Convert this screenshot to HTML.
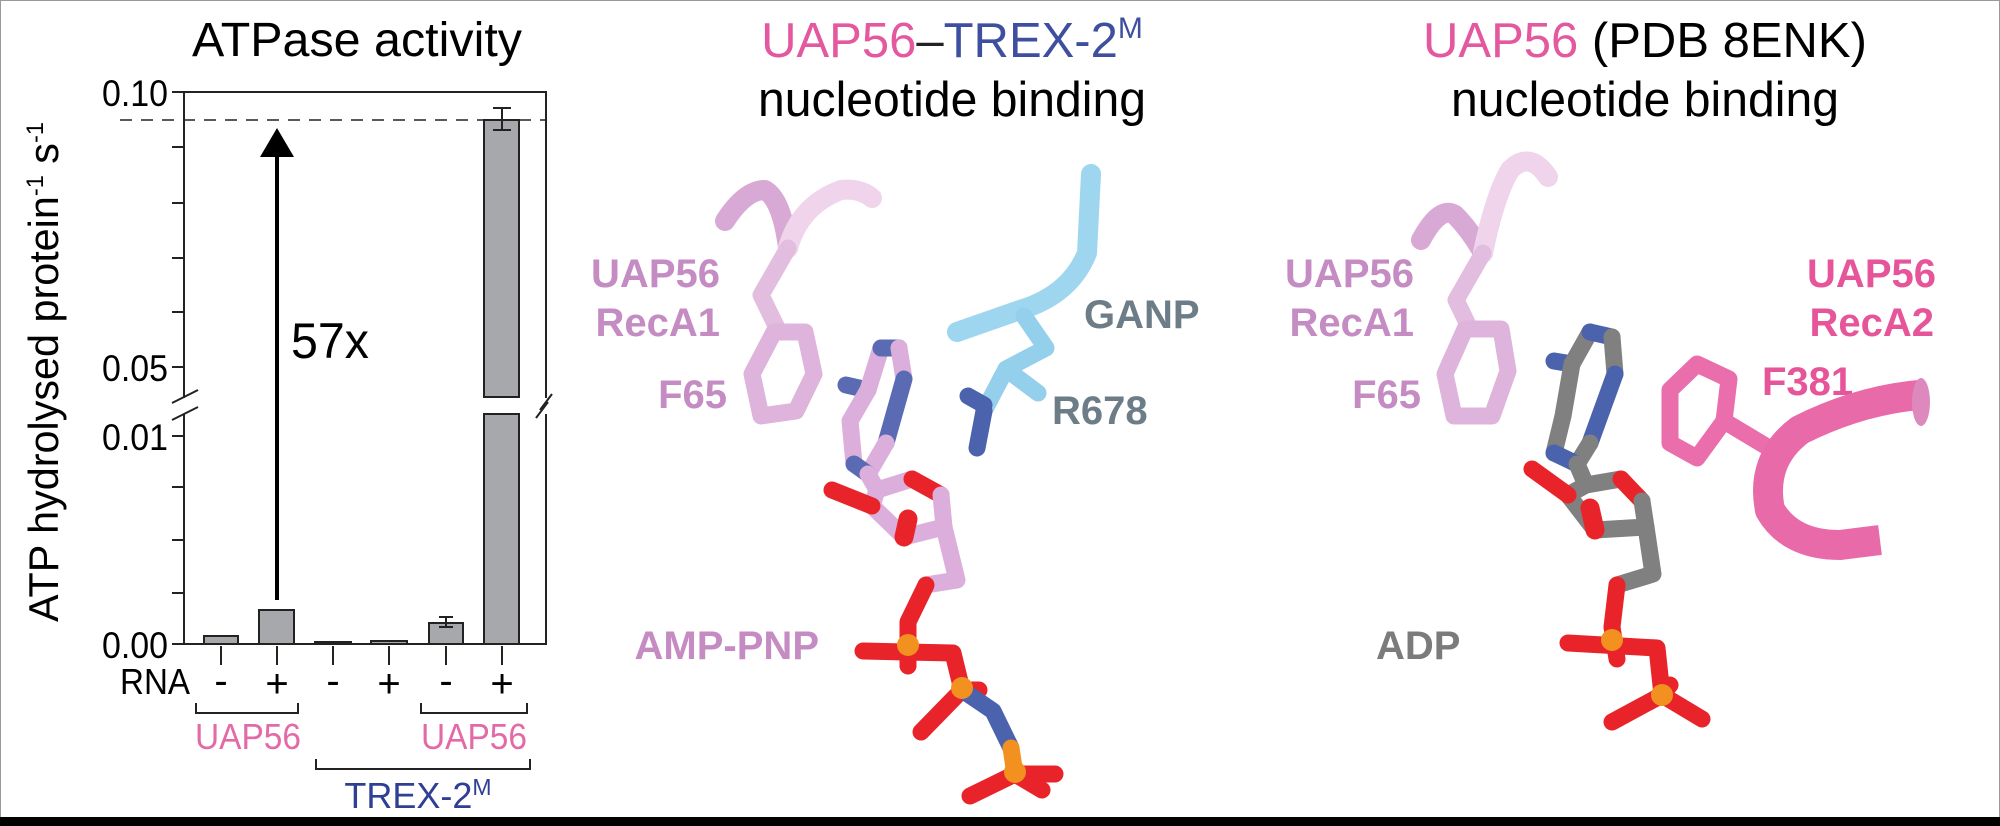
<!DOCTYPE html>
<html><head><meta charset="utf-8"><style>
html,body{margin:0;padding:0;background:#fff}
svg{display:block}
text{font-family:"Liberation Sans",Arial,sans-serif}
</style></head><body>
<svg width="2000" height="826" viewBox="0 0 2000 826" xmlns="http://www.w3.org/2000/svg">
<rect x="0" y="0" width="2000" height="826" fill="#fff"/>
<rect x="0.5" y="0.5" width="1999" height="820" fill="none" stroke="#999" stroke-width="1"/>
<rect x="0" y="817" width="2000" height="9" fill="#000"/>

<!-- ===== Chart ===== -->
<text x="357" y="56" font-size="48" text-anchor="middle" textLength="330" lengthAdjust="spacingAndGlyphs">ATPase activity</text>
<g stroke="#222" stroke-width="2" fill="none">
<rect x="184" y="92" width="362" height="552"/>
<line x1="120" y1="120" x2="546" y2="120" stroke-dasharray="12,9" stroke-width="1.6"/>
<line x1="172" y1="92" x2="184" y2="92"/>
<line x1="172" y1="147" x2="184" y2="147"/><line x1="172" y1="203" x2="184" y2="203"/>
<line x1="172" y1="258" x2="184" y2="258"/><line x1="172" y1="312" x2="184" y2="312"/>
<line x1="172" y1="367" x2="184" y2="367"/>
<line x1="172" y1="436" x2="184" y2="436"/><line x1="172" y1="487" x2="184" y2="487"/>
<line x1="172" y1="540" x2="184" y2="540"/><line x1="172" y1="593" x2="184" y2="593"/>
<line x1="172" y1="644" x2="184" y2="644"/>
</g>
<rect x="175" y="398" width="18" height="16" fill="#fff"/>
<rect x="538" y="398" width="18" height="16" fill="#fff"/>
<g stroke="#222" stroke-width="2">
<line x1="172" y1="403" x2="198" y2="390"/><line x1="172" y1="420" x2="198" y2="407"/>
<line x1="540" y1="410" x2="552" y2="394"/><line x1="536" y1="418" x2="548" y2="402"/>
</g>
<g font-size="37" text-anchor="end">
<text x="168" y="106" textLength="66" lengthAdjust="spacingAndGlyphs">0.10</text>
<text x="168" y="381" textLength="66" lengthAdjust="spacingAndGlyphs">0.05</text>
<text x="168" y="450" textLength="66" lengthAdjust="spacingAndGlyphs">0.01</text>
<text x="168" y="658" textLength="66" lengthAdjust="spacingAndGlyphs">0.00</text>
</g>
<text transform="translate(58,372) rotate(-90)" font-size="42" text-anchor="middle" textLength="500" lengthAdjust="spacingAndGlyphs">ATP hydrolysed protein<tspan font-size="24" dy="-15">-1</tspan><tspan dy="15"> s</tspan><tspan font-size="24" dy="-15">-1</tspan></text>
<g fill="#a7a8ab" stroke="#222" stroke-width="2">
<rect x="204" y="636" width="34" height="8"/>
<rect x="259" y="610" width="35" height="34"/>
<rect x="315" y="642" width="36" height="2"/>
<rect x="371" y="641" width="36" height="3"/>
<rect x="429" y="623" width="34" height="21"/>
<rect x="484" y="120" width="35" height="277"/>
<rect x="484" y="414" width="35" height="230"/>
</g>
<g stroke="#222" stroke-width="2">
<line x1="446" y1="617" x2="446" y2="627"/><line x1="439" y1="617" x2="453" y2="617"/><line x1="439" y1="627" x2="453" y2="627"/>
<line x1="502" y1="108" x2="502" y2="130"/><line x1="493" y1="108" x2="511" y2="108"/><line x1="493" y1="130" x2="511" y2="130"/>
</g>
<line x1="277" y1="600" x2="277" y2="150" stroke="#000" stroke-width="4"/>
<polygon points="277,128 260,157 294,157" fill="#000"/>
<text x="291" y="358" font-size="50" textLength="78" lengthAdjust="spacingAndGlyphs">57x</text>
<g stroke="#222" stroke-width="2">
<line x1="221" y1="646" x2="221" y2="665"/><line x1="277" y1="646" x2="277" y2="665"/>
<line x1="333" y1="646" x2="333" y2="665"/><line x1="389" y1="646" x2="389" y2="665"/>
<line x1="446" y1="646" x2="446" y2="665"/><line x1="502" y1="646" x2="502" y2="665"/>
</g>
<text x="120" y="694" font-size="36" textLength="70" lengthAdjust="spacingAndGlyphs">RNA</text>
<g font-size="40" text-anchor="middle">
<text x="221" y="694">-</text><text x="277" y="697">+</text>
<text x="333" y="694">-</text><text x="389" y="697">+</text>
<text x="446" y="694">-</text><text x="502" y="697">+</text>
</g>
<g stroke="#222" stroke-width="2" fill="none">
<polyline points="196,703 196,713 298,713 298,703"/>
<polyline points="421,703 421,713 527,713 527,703"/>
<polyline points="316,759 316,769 530,769 530,759"/>
</g>
<g font-size="36" fill="#e36aa6" text-anchor="middle">
<text x="248" y="749" textLength="106" lengthAdjust="spacingAndGlyphs">UAP56</text>
<text x="474" y="749" textLength="106" lengthAdjust="spacingAndGlyphs">UAP56</text>
</g>
<text x="418" y="808" font-size="36" fill="#2e3f94" text-anchor="middle">TREX-2<tspan font-size="23" dy="-13">M</tspan></text>

<!-- ===== Middle panel ===== -->
<text x="952" y="57" font-size="49" text-anchor="middle"><tspan fill="#e3589e">UAP56</tspan><tspan fill="#222">–</tspan><tspan fill="#3f4fa0">TREX-2</tspan><tspan fill="#3f4fa0" font-size="30" dy="-19">M</tspan></text>
<text x="952" y="116" font-size="49" text-anchor="middle" textLength="388" lengthAdjust="spacingAndGlyphs">nucleotide binding</text>
<g font-weight="bold" font-size="40" fill="#c58bc3">
<text x="720" y="287" text-anchor="end">UAP56</text>
<text x="720" y="336" text-anchor="end">RecA1</text>
<text x="727" y="408" text-anchor="end">F65</text>
<text x="819" y="659" text-anchor="end">AMP-PNP</text>
</g>
<g font-weight="bold" font-size="40" fill="#6d7d88">
<text x="1084" y="328">GANP</text>
<text x="1052" y="424">R678</text>
</g>
<g fill="none" stroke-linecap="round" stroke-linejoin="round">
<path d="M725,221 Q745,190 765,190 Q782,200 788,248" stroke="#d9a9d6" stroke-width="20"/>
<path d="M788,248 Q800,205 841,190 Q860,188 872,198" stroke="#efd4ec" stroke-width="20"/>
<polyline points="788,248 761,295 779,332" stroke="#e3bde0" stroke-width="17"/>
<polygon points="774,332 805,332 814,374 796,411 761,416 752,374" stroke="#deb3dc" stroke-width="17"/>
<path d="M1091,174 L1087,253 Q1070,295 1020,310 L957,332" stroke="#9fd6ef" stroke-width="20"/>
<polyline points="1024,316 1046,348 1006,369 1038,393" stroke="#94cfeb" stroke-width="17"/>
<polyline points="1006,369 984,411" stroke="#94cfeb" stroke-width="17"/>
<polyline points="984,411 977,448" stroke="#4b62ad" stroke-width="17"/>
<polyline points="984,405 968,396" stroke="#4b62ad" stroke-width="17"/>
<polyline points="846,385 868,390" stroke="#5a6bb3" stroke-width="17"/>
<polyline points="868,390 881,348" stroke="#dcaedb" stroke-width="17"/>
<polyline points="881,348 899,348" stroke="#5a6bb3" stroke-width="17"/>
<polyline points="899,348 904,379" stroke="#dcaedb" stroke-width="17"/>
<polyline points="904,379 886,443" stroke="#5a6bb3" stroke-width="17"/>
<polyline points="886,443 868,474" stroke="#dcaedb" stroke-width="17"/>
<polyline points="868,390 850,421 854,464" stroke="#dcaedb" stroke-width="17"/>
<polyline points="854,464 868,474" stroke="#5a6bb3" stroke-width="17"/>
<polyline points="868,474 877,490 912,479" stroke="#dcaedb" stroke-width="17"/>
<polyline points="912,479 941,495" stroke="#e8232a" stroke-width="17"/>
<polyline points="941,495 944,527 904,537 872,506 877,490" stroke="#dcaedb" stroke-width="17"/>
<polyline points="872,506 832,490" stroke="#e8232a" stroke-width="17"/>
<polyline points="904,537 908,519" stroke="#e8232a" stroke-width="19"/>
<polyline points="944,527 957,580 926,585" stroke="#dcaedb" stroke-width="17"/>
<polyline points="926,585 908,622 908,640" stroke="#e8232a" stroke-width="17"/>
<polyline points="863,651 953,653 962,690" stroke="#e8232a" stroke-width="17"/>
<polyline points="908,640 908,666" stroke="#e8232a" stroke-width="17"/>
<polyline points="921,732 962,690 979,690" stroke="#e8232a" stroke-width="17"/>
<polyline points="962,690 993,711 1011,748" stroke="#4b62ad" stroke-width="17"/>
<polyline points="1011,748 1015,774" stroke="#f2911f" stroke-width="17"/>
<polyline points="1055,774 1015,774 970,796" stroke="#e8232a" stroke-width="17"/>
<polyline points="1015,774 1042,790" stroke="#e8232a" stroke-width="17"/>
<circle cx="908" cy="645" r="11" fill="#f2911f" stroke="none"/>
<circle cx="962" cy="688" r="11" fill="#f2911f" stroke="none"/>
<circle cx="1015" cy="772" r="11" fill="#f2911f" stroke="none"/>
</g>

<!-- ===== Right panel ===== -->
<text x="1645" y="57" font-size="49" text-anchor="middle"><tspan fill="#e3589e">UAP56</tspan> (PDB 8ENK)</text>
<text x="1645" y="116" font-size="49" text-anchor="middle" textLength="388" lengthAdjust="spacingAndGlyphs">nucleotide binding</text>
<g font-weight="bold" font-size="40" fill="#c58bc3">
<text x="1414" y="287" text-anchor="end">UAP56</text>
<text x="1414" y="336" text-anchor="end">RecA1</text>
<text x="1421" y="408" text-anchor="end">F65</text>
</g>
<g font-weight="bold" font-size="40" fill="#e6559a">
<text x="1936" y="287" text-anchor="end">UAP56</text>
<text x="1934" y="336" text-anchor="end">RecA2</text>
<text x="1762" y="395">F381</text>
</g>
<text x="1376" y="659" font-weight="bold" font-size="40" fill="#7b7b7b">ADP</text>
<g fill="none" stroke-linecap="round" stroke-linejoin="round">
<path d="M1421,240 Q1440,205 1455,215 Q1470,230 1483,253" stroke="#d9a9d6" stroke-width="20"/>
<path d="M1483,253 Q1495,195 1510,170 Q1530,150 1548,177" stroke="#efd4ec" stroke-width="20"/>
<polyline points="1483,253 1456,300 1470,329" stroke="#e3bde0" stroke-width="17"/>
<polygon points="1465,329 1501,329 1508,371 1492,416 1454,416 1445,374" stroke="#deb3dc" stroke-width="17"/>
<polyline points="1554,361 1572,364" stroke="#4b62ad" stroke-width="17"/>
<polyline points="1572,364 1590,332" stroke="#808080" stroke-width="17"/>
<polyline points="1590,332 1612,337" stroke="#4b62ad" stroke-width="17"/>
<polyline points="1612,337 1615,374" stroke="#808080" stroke-width="17"/>
<polyline points="1615,374 1590,443" stroke="#4b62ad" stroke-width="17"/>
<polyline points="1590,443 1577,464" stroke="#808080" stroke-width="17"/>
<polyline points="1572,364 1563,416 1554,453" stroke="#808080" stroke-width="17"/>
<polyline points="1554,453 1577,464" stroke="#4b62ad" stroke-width="17"/>
<polyline points="1577,464 1586,485 1621,479" stroke="#808080" stroke-width="17"/>
<polyline points="1621,479 1642,501" stroke="#e8232a" stroke-width="17"/>
<polyline points="1642,501 1646,527 1595,530 1568,495 1586,485" stroke="#808080" stroke-width="17"/>
<polyline points="1568,495 1532,469" stroke="#e8232a" stroke-width="17"/>
<polyline points="1595,530 1590,508" stroke="#e8232a" stroke-width="19"/>
<polyline points="1646,527 1653,574 1617,585" stroke="#808080" stroke-width="17"/>
<polyline points="1617,585 1612,627" stroke="#e8232a" stroke-width="17"/>
<polyline points="1568,643 1657,648 1662,695" stroke="#e8232a" stroke-width="17"/>
<polyline points="1612,627 1617,659" stroke="#e8232a" stroke-width="17"/>
<polyline points="1612,722 1662,695 1702,719" stroke="#e8232a" stroke-width="17"/>
<polyline points="1662,695 1670,685" stroke="#e8232a" stroke-width="17"/>
<circle cx="1612" cy="640" r="11" fill="#f2911f" stroke="none"/>
<circle cx="1662" cy="695" r="11" fill="#f2911f" stroke="none"/>
<polygon points="1670,390 1697,364 1729,379 1724,421 1697,458 1670,443" stroke="#ea6eab" stroke-width="17"/>
<polyline points="1724,421 1769,448" stroke="#ea6eab" stroke-width="17"/>
<path d="M1920,395 Q1860,400 1800,430 Q1760,460 1770,510 Q1790,545 1840,545 L1880,540" stroke="#e86aa8" stroke-width="30" stroke-linecap="butt"/>
<ellipse cx="1921" cy="402" rx="9" ry="24" fill="#de89bd" stroke="none"/>
</g>
</svg>
</body></html>
